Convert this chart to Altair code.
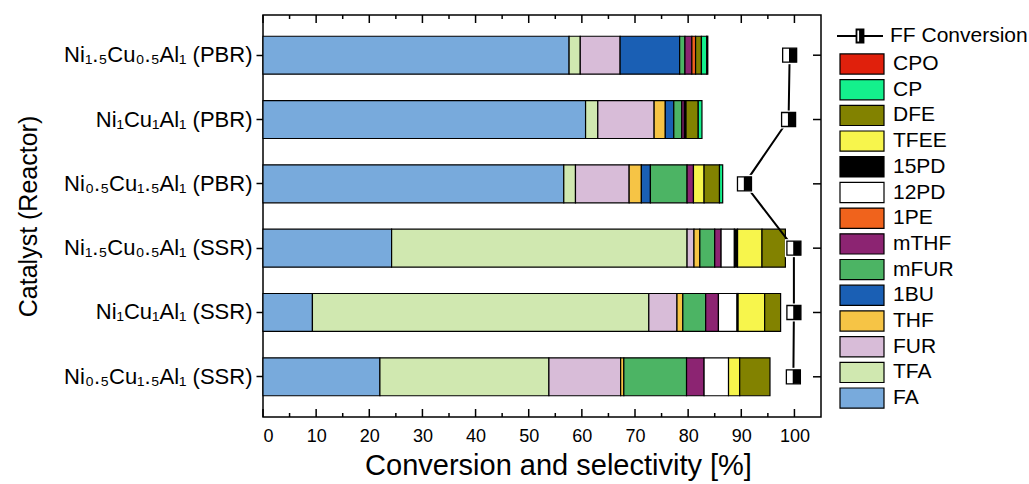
import altair as alt
import pandas as pd

# Catalysts, top to bottom
catalysts = [
    "Ni₁.₅Cu₀.₅Al₁ (PBR)",
    "Ni₁Cu₁Al₁ (PBR)",
    "Ni₀.₅Cu₁.₅Al₁ (PBR)",
    "Ni₁.₅Cu₀.₅Al₁ (SSR)",
    "Ni₁Cu₁Al₁ (SSR)",
    "Ni₀.₅Cu₁.₅Al₁ (SSR)",
]

# Products in stacking order (left to right)
products = ["FA", "TFA", "FUR", "THF", "1BU", "mFUR", "mTHF", "1PE",
            "12PD", "15PD", "TFEE", "DFE", "CP", "CPO"]
product_colors = ["#78aadc", "#d0e8b0", "#d8bcd8", "#f6c445", "#1a5fb4", "#4cb464",
                  "#8c2472", "#f0631c", "#ffffff", "#000000", "#f7f54c", "#828200",
                  "#14f08c", "#e0200c"]

# Selectivity [%] per product, one value per catalyst
selectivity = {
    "FA":   [57.6, 60.7, 56.6, 24.2, 9.3, 22.0],
    "TFA":  [2.1, 2.3, 2.2, 55.6, 63.3, 31.8],
    "FUR":  [7.5, 10.6, 10.1, 1.3, 5.3, 13.5],
    "THF":  [0.0, 2.1, 2.3, 1.1, 1.1, 0.6],
    "1BU":  [11.2, 1.6, 1.7, 0.0, 0.0, 0.0],
    "mFUR": [1.0, 1.5, 6.9, 2.8, 4.3, 11.8],
    "mTHF": [1.3, 0.5, 1.2, 1.2, 2.4, 3.3],
    "1PE":  [0.7, 0.0, 0.0, 0.0, 0.0, 0.0],
    "12PD": [0.0, 0.0, 0.0, 2.5, 3.5, 4.6],
    "15PD": [0.0, 0.3, 0.0, 0.6, 0.2, 0.0],
    "TFEE": [0.0, 0.0, 2.0, 4.6, 5.0, 2.1],
    "DFE":  [1.1, 2.3, 2.9, 4.4, 3.0, 5.7],
    "CP":   [1.0, 0.7, 0.6, 0.0, 0.0, 0.0],
    "CPO":  [0.2, 0.0, 0.0, 0.0, 0.0, 0.0],
}

# Furfural conversion [%]
ff_conversion = [99.1, 98.9, 90.6, 99.9, 99.9, 99.8]

major_ticks = [0, 10, 20, 30, 40, 50, 60, 70, 80, 90, 100]
minor_ticks = [5, 15, 25, 35, 45, 55, 65, 75, 85, 95]

PLOT_W, PLOT_H = 558, 402
FONT = "Liberation Sans"

# Half-filled square marker (left half open, right half filled)
MARKER_PATH = "M-1,-1H1V1H-1Z M-1,-1V1H0V-1Z"
# Legend symbols drawn wider than their nominal size so rows stay compact
LEGEND_LINE_PATH = ("M-2.09,0H-0.32 M0.32,0H2.09 M-0.32,-0.59H0.32V0.59H-0.32Z "
                    "M-0.32,-0.59V0.59H0V-0.59Z")
LEGEND_RECT_PATH = "M-2,-0.92H2V0.92H-2Z"

rows = []
for k, p in enumerate(products):
    for c, v in zip(catalysts, selectivity[p]):
        if v > 0:
            rows.append({"catalyst": c, "product": p, "stack_pos": k, "value": v})
bars_df = pd.DataFrame(rows)

conv_df = pd.DataFrame({
    "catalyst": catalysts,
    "conversion": ff_conversion,
    "row": list(range(len(catalysts))),
    "series": ["FF Conversion"] * len(catalysts),
})

x_scale = alt.Scale(domain=[0, 105], nice=False, zero=False)

x_axis = alt.Axis(title="Conversion and selectivity [%]", values=major_ticks,
                  ticks=False, domain=False, grid=False,
                  labelFont=FONT, labelFontSize=18, labelColor="black",
                  labelPadding=10, titleFont=FONT, titleFontSize=29,
                  titleFontWeight="normal", titleColor="black", titlePadding=6,
                  titleX=295, titleAlign="center")
y_axis = alt.Axis(title="Catalyst (Reactor)", domain=False, grid=False,
                  tickSize=7, tickColor="black", tickWidth=1.5,
                  labelFont=FONT, labelFontSize=22, labelColor="black",
                  labelPadding=4, labelLimit=400,
                  titleFont=FONT, titleFontSize=25, titleFontWeight="normal",
                  titleColor="black", titlePadding=22)


def y_enc():
    return alt.Y("catalyst:N", sort=catalysts, axis=y_axis)


def x_enc(field):
    return alt.X(field, scale=x_scale, axis=x_axis)


legend_order = list(reversed(products))
legend_colors = list(reversed(product_colors))

bars = alt.Chart(bars_df).mark_bar(stroke="black", strokeWidth=1.2).encode(
    x=alt.X("value:Q", stack="zero", scale=x_scale, axis=x_axis),
    y=alt.Y("catalyst:N", sort=catalysts,
            scale=alt.Scale(paddingInner=0.41, paddingOuter=0.33), axis=y_axis),
    color=alt.Color("product:N",
                    scale=alt.Scale(domain=legend_order, range=legend_colors),
                    legend=alt.Legend(title=None, orient="none", legendX=587, legendY=37,
                                      symbolType=LEGEND_RECT_PATH, symbolSize=484,
                                      symbolStrokeColor="black", symbolStrokeWidth=1.2,
                                      labelFont=FONT, labelFontSize=21, labelColor="black",
                                      labelOffset=19, rowPadding=-0.3, padding=0)),
    order=alt.Order("stack_pos:Q", sort="ascending"),
)

major_df = pd.DataFrame({"t": major_ticks})
minor_df = pd.DataFrame({"t": minor_ticks})

bottom_major = alt.Chart(major_df).mark_rule(color="black", strokeWidth=1.5).encode(
    x=x_enc("t:Q"), y=alt.value(PLOT_H), y2=alt.value(PLOT_H - 8))
bottom_minor = alt.Chart(minor_df).mark_rule(color="black", strokeWidth=1.5).encode(
    x=x_enc("t:Q"), y=alt.value(PLOT_H), y2=alt.value(PLOT_H - 4))
top_major = alt.Chart(major_df).mark_rule(color="black", strokeWidth=1.5).encode(
    x=x_enc("t:Q"), y=alt.value(0), y2=alt.value(8))
top_minor = alt.Chart(minor_df).mark_rule(color="black", strokeWidth=1.5).encode(
    x=x_enc("t:Q"), y=alt.value(0), y2=alt.value(4))
right_ticks = alt.Chart(conv_df).mark_rule(color="black", strokeWidth=1.5).encode(
    y=y_enc(), x=alt.value(PLOT_W - 8), x2=alt.value(PLOT_W))

conv_line = alt.Chart(conv_df).mark_line(color="black", strokeWidth=2).encode(
    x=x_enc("conversion:Q"), y=y_enc(), order="row:O")

conv_halo = alt.Chart(conv_df).mark_point(
    shape="square", filled=True, color="white", opacity=1, size=324).encode(
    x=x_enc("conversion:Q"), y=y_enc())

conv_marker = alt.Chart(conv_df).mark_point(
    shape=MARKER_PATH, filled=True, color="black", stroke="black",
    strokeWidth=1.3, opacity=1, size=196).encode(
    x=x_enc("conversion:Q"), y=y_enc())

conv_legend = alt.Chart(conv_df).mark_point(
    filled=True, color="black", stroke="black", strokeWidth=1.8,
    opacity=0, size=196).encode(
    x=x_enc("conversion:Q"), y=y_enc(),
    shape=alt.Shape("series:N",
                    scale=alt.Scale(domain=["FF Conversion"], range=[LEGEND_LINE_PATH]),
                    legend=alt.Legend(title=None, orient="none", legendX=585, legendY=9,
                                      symbolOpacity=1, symbolSize=484,
                                      symbolFillColor="black", symbolStrokeWidth=1.8,
                                      labelFont=FONT, labelFontSize=21, labelColor="black",
                                      labelOffset=18, padding=0)),
)

chart = alt.layer(
    bars, bottom_major, bottom_minor, top_major, top_minor, right_ticks,
    conv_line, conv_halo, conv_marker, conv_legend,
).properties(
    width=PLOT_W, height=PLOT_H,
    autosize=alt.AutoSizeParams(type="none"),
    padding={"left": 263, "top": 15, "right": 208, "bottom": 67},
    background="white",
).configure_view(
    stroke="black", strokeWidth=1.5
).configure_axis(grid=False)

chart.save("out.html", embed_options={"renderer": "svg", "actions": False})
